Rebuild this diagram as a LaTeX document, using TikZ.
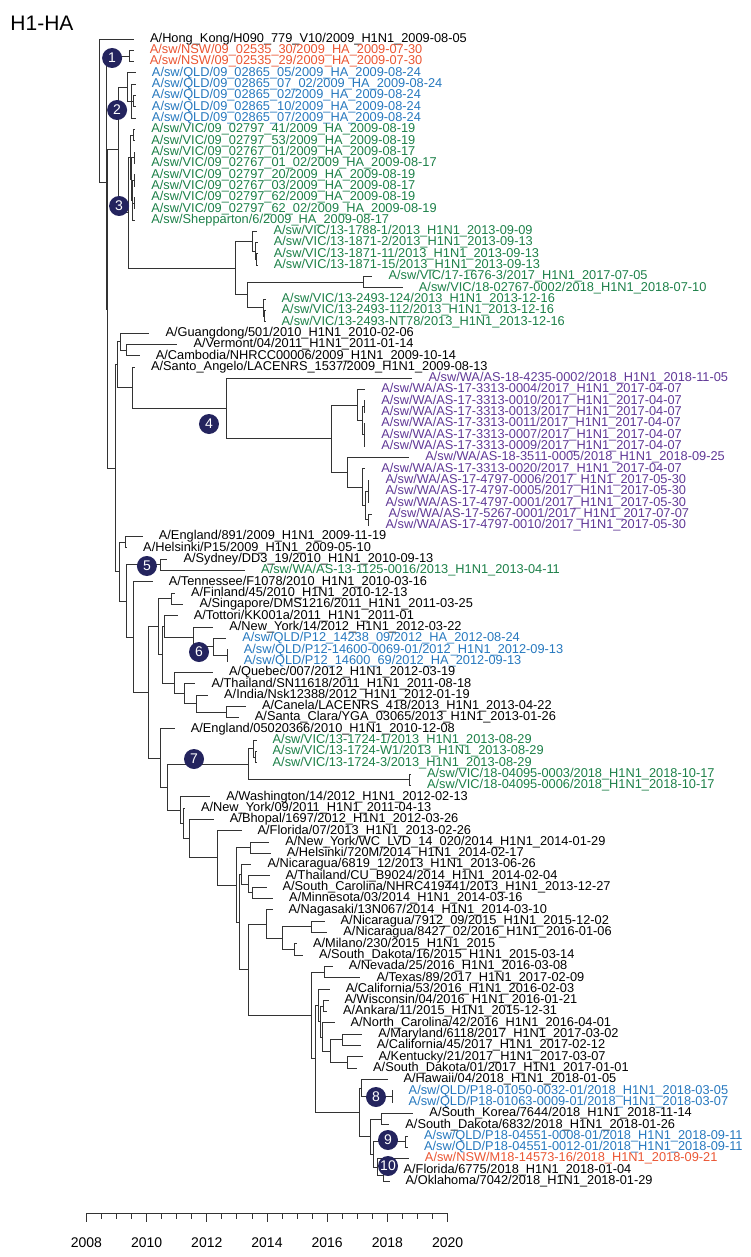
\documentclass[tikz,border=0pt]{standalone}
\usepackage{fontspec}
\setmainfont{Liberation Sans}
\usetikzlibrary{positioning}
\begin{document}
\begin{tikzpicture}[x=30.1pt,y=-1pt,
  br/.style={line width=0.9pt,draw=black!80},
  tip/.style={inner sep=0pt,minimum size=0pt},
  every label/.style={font=\fontsize{12.8}{13}\selectfont,inner sep=0pt,xshift=15.5pt},
  nsw/.style={text=nswred},qld/.style={text=qldblue},
  vic/.style={text=vicgreen},wa/.style={text=wapurple},
  badge/.style={circle,fill=badgenavy,text=white,minimum size=20pt,inner sep=0pt,font=\fontsize{14}{14}\selectfont}]
\definecolor{nswred}{RGB}{234,85,50}
\definecolor{qldblue}{RGB}{38,120,190}
\definecolor{vicgreen}{RGB}{28,128,72}
\definecolor{wapurple}{RGB}{96,56,150}
\definecolor{badgenavy}{RGB}{36,36,94}
\useasboundingbox (-2.8704,0) rectangle (22.0465,1257);
\node[anchor=west,font=\fontsize{21}{21}\selectfont] (title) at (-2.64,23) {H1-HA};
% leaves, x = year - 2008
\node[tip,label={right:A/Hong\_Kong/H090\_779\_V10/2009\_H1N1\_2009-08-05}] (l1) at (1.59,39.0) {};
\node[tip,label={[nsw]right:A/sw/NSW/09\_02535\_30/2009\_HA\_2009-07-30}] (l2) at (1.58,50.3) {};
\node[tip,label={[nsw]right:A/sw/NSW/09\_02535\_29/2009\_HA\_2009-07-30}] (l3) at (1.58,61.6) {};
\node[tip,label={[qld]right:A/sw/QLD/09\_02865\_05/2009\_HA\_2009-08-24}] (l4) at (1.65,72.9) {};
\node[tip,label={[qld]right:A/sw/QLD/09\_02865\_07\_02/2009\_HA\_2009-08-24}] (l5) at (1.65,84.2) {};
\node[tip,label={[qld]right:A/sw/QLD/09\_02865\_02/2009\_HA\_2009-08-24}] (l6) at (1.65,95.6) {};
\node[tip,label={[qld]right:A/sw/QLD/09\_02865\_10/2009\_HA\_2009-08-24}] (l7) at (1.65,106.9) {};
\node[tip,label={[qld]right:A/sw/QLD/09\_02865\_07/2009\_HA\_2009-08-24}] (l8) at (1.65,118.2) {};
\node[tip,label={[vic]right:A/sw/VIC/09\_02797\_41/2009\_HA\_2009-08-19}] (l9) at (1.63,129.5) {};
\node[tip,label={[vic]right:A/sw/VIC/09\_02797\_53/2009\_HA\_2009-08-19}] (l10) at (1.63,140.8) {};
\node[tip,label={[vic]right:A/sw/VIC/09\_02767\_01/2009\_HA\_2009-08-17}] (l11) at (1.63,152.1) {};
\node[tip,label={[vic]right:A/sw/VIC/09\_02767\_01\_02/2009\_HA\_2009-08-17}] (l12) at (1.63,163.4) {};
\node[tip,label={[vic]right:A/sw/VIC/09\_02797\_20/2009\_HA\_2009-08-19}] (l13) at (1.63,174.7) {};
\node[tip,label={[vic]right:A/sw/VIC/09\_02767\_03/2009\_HA\_2009-08-17}] (l14) at (1.63,186.0) {};
\node[tip,label={[vic]right:A/sw/VIC/09\_02797\_62/2009\_HA\_2009-08-19}] (l15) at (1.63,197.3) {};
\node[tip,label={[vic]right:A/sw/VIC/09\_02797\_62\_02/2009\_HA\_2009-08-19}] (l16) at (1.63,208.7) {};
\node[tip,label={[vic]right:A/sw/Shepparton/6/2009\_HA\_2009-08-17}] (l17) at (1.63,220.0) {};
\node[tip,label={[vic]right:A/sw/VIC/13-1788-1/2013\_H1N1\_2013-09-09}] (l18) at (5.69,231.3) {};
\node[tip,label={[vic]right:A/sw/VIC/13-1871-2/2013\_H1N1\_2013-09-13}] (l19) at (5.70,242.6) {};
\node[tip,label={[vic]right:A/sw/VIC/13-1871-11/2013\_H1N1\_2013-09-13}] (l20) at (5.70,253.9) {};
\node[tip,label={[vic]right:A/sw/VIC/13-1871-15/2013\_H1N1\_2013-09-13}] (l21) at (5.70,265.2) {};
\node[tip,label={[vic]right:A/sw/VIC/17-1676-3/2017\_H1N1\_2017-07-05}] (l22) at (9.51,276.5) {};
\node[tip,label={[vic]right:A/sw/VIC/18-02767-0002/2018\_H1N1\_2018-07-10}] (l23) at (10.52,287.8) {};
\node[tip,label={[vic]right:A/sw/VIC/13-2493-124/2013\_H1N1\_2013-12-16}] (l24) at (5.96,299.1) {};
\node[tip,label={[vic]right:A/sw/VIC/13-2493-112/2013\_H1N1\_2013-12-16}] (l25) at (5.96,310.5) {};
\node[tip,label={[vic]right:A/sw/VIC/13-2493-NT78/2013\_H1N1\_2013-12-16}] (l26) at (5.96,321.8) {};
\node[tip,label={right:A/Guangdong/501/2010\_H1N1\_2010-02-06}] (l27) at (2.10,333.1) {};
\node[tip,label={right:A/Vermont/04/2011\_H1N1\_2011-01-14}] (l28) at (3.03,344.4) {};
\node[tip,label={right:A/Cambodia/NHRCC00006/2009\_H1N1\_2009-10-14}] (l29) at (1.78,355.7) {};
\node[tip,label={right:A/Santo\_Angelo/LACENRS\_1537/2009\_H1N1\_2009-08-13}] (l30) at (1.62,367.0) {};
\node[tip,label={[wa]right:A/sw/WA/AS-18-4235-0002/2018\_H1N1\_2018-11-05}] (l31) at (10.84,378.3) {};
\node[tip,label={[wa]right:A/sw/WA/AS-17-3313-0004/2017\_H1N1\_2017-04-07}] (l32) at (9.27,389.6) {};
\node[tip,label={[wa]right:A/sw/WA/AS-17-3313-0010/2017\_H1N1\_2017-04-07}] (l33) at (9.27,400.9) {};
\node[tip,label={[wa]right:A/sw/WA/AS-17-3313-0013/2017\_H1N1\_2017-04-07}] (l34) at (9.27,412.2) {};
\node[tip,label={[wa]right:A/sw/WA/AS-17-3313-0011/2017\_H1N1\_2017-04-07}] (l35) at (9.27,423.5) {};
\node[tip,label={[wa]right:A/sw/WA/AS-17-3313-0007/2017\_H1N1\_2017-04-07}] (l36) at (9.27,434.9) {};
\node[tip,label={[wa]right:A/sw/WA/AS-17-3313-0009/2017\_H1N1\_2017-04-07}] (l37) at (9.27,446.2) {};
\node[tip,label={[wa]right:A/sw/WA/AS-18-3511-0005/2018\_H1N1\_2018-09-25}] (l38) at (10.73,457.5) {};
\node[tip,label={[wa]right:A/sw/WA/AS-17-3313-0020/2017\_H1N1\_2017-04-07}] (l39) at (9.27,468.8) {};
\node[tip,label={[wa]right:A/sw/WA/AS-17-4797-0006/2017\_H1N1\_2017-05-30}] (l40) at (9.41,480.1) {};
\node[tip,label={[wa]right:A/sw/WA/AS-17-4797-0005/2017\_H1N1\_2017-05-30}] (l41) at (9.41,491.4) {};
\node[tip,label={[wa]right:A/sw/WA/AS-17-4797-0001/2017\_H1N1\_2017-05-30}] (l42) at (9.41,502.7) {};
\node[tip,label={[wa]right:A/sw/WA/AS-17-5267-0001/2017\_H1N1\_2017-07-07}] (l43) at (9.51,514.0) {};
\node[tip,label={[wa]right:A/sw/WA/AS-17-4797-0010/2017\_H1N1\_2017-05-30}] (l44) at (9.41,525.3) {};
\node[tip,label={right:A/England/891/2009\_H1N1\_2009-11-19}] (l45) at (1.88,536.6) {};
\node[tip,label={right:A/Helsinki/P15/2009\_H1N1\_2009-05-10}] (l46) at (1.36,547.9) {};
\node[tip,label={right:A/Sydney/DD3\_19/2010\_H1N1\_2010-09-13}] (l47) at (2.70,559.3) {};
\node[tip,label={[vic]right:A/sw/WA/AS-13-1125-0016/2013\_H1N1\_2013-04-11}] (l48) at (5.28,570.6) {};
\node[tip,label={right:A/Tennessee/F1078/2010\_H1N1\_2010-03-16}] (l49) at (2.21,581.9) {};
\node[tip,label={right:A/Finland/45/2010\_H1N1\_2010-12-13}] (l50) at (2.95,593.2) {};
\node[tip,label={right:A/Singapore/DMS1216/2011\_H1N1\_2011-03-25}] (l51) at (3.23,604.5) {};
\node[tip,label={right:A/Tottori/KK001a/2011\_H1N1\_2011-01}] (l52) at (3.04,615.8) {};
\node[tip,label={right:A/New\_York/14/2012\_H1N1\_2012-03-22}] (l53) at (4.22,627.1) {};
\node[tip,label={[qld]right:A/sw/QLD/P12\_14238\_09/2012\_HA\_2012-08-24}] (l54) at (4.65,638.4) {};
\node[tip,label={[qld]right:A/sw/QLD/P12-14600-0069-01/2012\_H1N1\_2012-09-13}] (l55) at (4.70,649.7) {};
\node[tip,label={[qld]right:A/sw/QLD/P12\_14600\_69/2012\_HA\_2012-09-13}] (l56) at (4.70,661.0) {};
\node[tip,label={right:A/Quebec/007/2012\_H1N1\_2012-03-19}] (l57) at (4.21,672.3) {};
\node[tip,label={right:A/Thailand/SN11618/2011\_H1N1\_2011-08-18}] (l58) at (3.63,683.7) {};
\node[tip,label={right:A/India/Nsk12388/2012\_H1N1\_2012-01-19}] (l59) at (4.05,695.0) {};
\node[tip,label={right:A/Canela/LACENRS\_418/2013\_H1N1\_2013-04-22}] (l60) at (5.31,706.3) {};
\node[tip,label={right:A/Santa\_Clara/YGA\_03065/2013\_H1N1\_2013-01-26}] (l61) at (5.07,717.6) {};
\node[tip,label={right:A/England/05020366/2010\_H1N1\_2010-12-08}] (l62) at (2.94,728.9) {};
\node[tip,label={[vic]right:A/sw/VIC/13-1724-1/2013\_H1N1\_2013-08-29}] (l63) at (5.66,740.2) {};
\node[tip,label={[vic]right:A/sw/VIC/13-1724-W1/2013\_H1N1\_2013-08-29}] (l64) at (5.66,751.5) {};
\node[tip,label={[vic]right:A/sw/VIC/13-1724-3/2013\_H1N1\_2013-08-29}] (l65) at (5.66,762.8) {};
\node[tip,label={[vic]right:A/sw/VIC/18-04095-0003/2018\_H1N1\_2018-10-17}] (l66) at (10.79,774.1) {};
\node[tip,label={[vic]right:A/sw/VIC/18-04095-0006/2018\_H1N1\_2018-10-17}] (l67) at (10.79,785.4) {};
\node[tip,label={right:A/Washington/14/2012\_H1N1\_2012-02-13}] (l68) at (4.12,796.7) {};
\node[tip,label={right:A/New\_York/09/2011\_H1N1\_2011-04-13}] (l69) at (3.28,808.1) {};
\node[tip,label={right:A/Bhopal/1697/2012\_H1N1\_2012-03-26}] (l70) at (4.24,819.4) {};
\node[tip,label={right:A/Florida/07/2013\_H1N1\_2013-02-26}] (l71) at (5.16,830.7) {};
\node[tip,label={right:A/New\_York/WC\_LVD\_14\_020/2014\_H1N1\_2014-01-29}] (l72) at (6.08,842.0) {};
\node[tip,label={right:A/Helsinki/720M/2014\_H1N1\_2014-02-17}] (l73) at (6.13,853.3) {};
\node[tip,label={right:A/Nicaragua/6819\_12/2013\_H1N1\_2013-06-26}] (l74) at (5.49,864.6) {};
\node[tip,label={right:A/Thailand/CU\_B9024/2014\_H1N1\_2014-02-04}] (l75) at (6.09,875.9) {};
\node[tip,label={right:A/South\_Carolina/NHRC419441/2013\_H1N1\_2013-12-27}] (l76) at (5.99,887.2) {};
\node[tip,label={right:A/Minnesota/03/2014\_H1N1\_2014-03-16}] (l77) at (6.21,898.5) {};
\node[tip,label={right:A/Nagasaki/13N067/2014\_H1N1\_2014-03-10}] (l78) at (6.19,909.8) {};
\node[tip,label={right:A/Nicaragua/7912\_09/2015\_H1N1\_2015-12-02}] (l79) at (7.92,921.1) {};
\node[tip,label={right:A/Nicaragua/8427\_02/2016\_H1N1\_2016-01-06}] (l80) at (8.01,932.5) {};
\node[tip,label={right:A/Milano/230/2015\_H1N1\_2015}] (l81) at (7.00,943.8) {};
\node[tip,label={right:A/South\_Dakota/16/2015\_H1N1\_2015-03-14}] (l82) at (7.20,955.1) {};
\node[tip,label={right:A/Nevada/25/2016\_H1N1\_2016-03-08}] (l83) at (8.19,966.4) {};
\node[tip,label={right:A/Texas/89/2017\_H1N1\_2017-02-09}] (l84) at (9.11,977.7) {};
\node[tip,label={right:A/California/53/2016\_H1N1\_2016-02-03}] (l85) at (8.09,989.0) {};
\node[tip,label={right:A/Wisconsin/04/2016\_H1N1\_2016-01-21}] (l86) at (8.05,1000.3) {};
\node[tip,label={right:A/Ankara/11/2015\_H1N1\_2015-12-31}] (l87) at (8.00,1011.6) {};
\node[tip,label={right:A/North\_Carolina/42/2016\_H1N1\_2016-04-01}] (l88) at (8.25,1022.9) {};
\node[tip,label={right:A/Maryland/6118/2017\_H1N1\_2017-03-02}] (l89) at (9.17,1034.2) {};
\node[tip,label={right:A/California/45/2017\_H1N1\_2017-02-12}] (l90) at (9.12,1045.6) {};
\node[tip,label={right:A/Kentucky/21/2017\_H1N1\_2017-03-07}] (l91) at (9.18,1056.9) {};
\node[tip,label={right:A/South\_Dakota/01/2017\_H1N1\_2017-01-01}] (l92) at (9.00,1068.2) {};
\node[tip,label={right:A/Hawaii/04/2018\_H1N1\_2018-01-05}] (l93) at (10.01,1079.5) {};
\node[tip,label={[qld]right:A/sw/QLD/P18-01050-0032-01/2018\_H1N1\_2018-03-05}] (l94) at (10.18,1090.8) {};
\node[tip,label={[qld]right:A/sw/QLD/P18-01063-0009-01/2018\_H1N1\_2018-03-07}] (l95) at (10.18,1102.1) {};
\node[tip,label={right:A/South\_Korea/7644/2018\_H1N1\_2018-11-14}] (l96) at (10.87,1113.4) {};
\node[tip,label={right:A/South\_Dakota/6832/2018\_H1N1\_2018-01-26}] (l97) at (10.07,1124.7) {};
\node[tip,label={[qld]right:A/sw/QLD/P18-04551-0008-01/2018\_H1N1\_2018-09-11}] (l98) at (10.69,1136.0) {};
\node[tip,label={[qld]right:A/sw/QLD/P18-04551-0012-01/2018\_H1N1\_2018-09-11}] (l99) at (10.69,1147.3) {};
\node[tip,label={[nsw]right:A/sw/NSW/M18-14573-16/2018\_H1N1\_2018-09-21}] (l100) at (10.72,1158.6) {};
\node[tip,label={right:A/Florida/6775/2018\_H1N1\_2018-01-04}] (l101) at (10.01,1170.0) {};
\node[tip,label={right:A/Oklahoma/7042/2018\_H1N1\_2018-01-29}] (l102) at (10.08,1181.3) {};
% inner nodes
\coordinate (R) at (0.419,110.8);
\coordinate (A) at (0.651,182.6);
\coordinate (N) at (1.415,56.0);
\coordinate (B) at (0.684,309.1);
\coordinate (C) at (1.050,149.9);
\coordinate (Q) at (1.349,87.1);
\coordinate (q2) at (1.482,101.2);
\coordinate (q1) at (1.548,101.3);
\coordinate (V) at (1.382,212.6);
\coordinate (V09) at (1.449,157.1);
\coordinate (v1) at (1.548,135.2);
\coordinate (vw) at (1.482,179.0);
\coordinate (v2) at (1.581,157.8);
\coordinate (vu) at (1.515,200.2);
\coordinate (v3) at (1.581,180.4);
\coordinate (v4) at (1.581,203.0);
\coordinate (W) at (4.937,268.1);
\coordinate (W1) at (5.502,241.2);
\coordinate (W1b) at (5.601,251.1);
\coordinate (W1c) at (5.635,259.6);
\coordinate (W2) at (5.336,294.9);
\coordinate (W2a) at (9.189,282.2);
\coordinate (W2b) at (5.867,307.6);
\coordinate (W2c) at (5.917,316.1);
\coordinate (D) at (0.950,468.2);
\coordinate (E) at (1.017,364.7);
\coordinate (GVC) at (1.116,341.6);
\coordinate (VC) at (1.316,350.1);
\coordinate (G) at (1.515,387.8);
\coordinate (WA) at (4.638,408.6);
\coordinate (WAb) at (8.126,438.8);
\coordinate (WAc) at (8.990,405.2);
\coordinate (WAc2) at (9.156,420.7);
\coordinate (WAc3) at (9.223,406.6);
\coordinate (WAc4) at (9.223,434.9);
\coordinate (WAd) at (8.658,472.3);
\coordinate (WAe) at (9.156,487.2);
\coordinate (WAf) at (9.256,505.5);
\coordinate (WAg) at (9.355,491.4);
\coordinate (WAh) at (9.355,519.7);
\coordinate (F) at (1.083,571.7);
\coordinate (H1) at (1.282,542.3);
\coordinate (K) at (1.316,601.0);
\coordinate (S) at (2.445,564.9);
\coordinate (L) at (1.548,637.2);
\coordinate (M) at (2.046,692.4);
\coordinate (M1) at (2.379,626.8);
\coordinate (Fs) at (2.811,598.9);
\coordinate (TQ) at (2.512,654.7);
\coordinate (T) at (2.578,626.4);
\coordinate (NYQ) at (3.542,637.0);
\coordinate (Q6) at (4.206,646.9);
\coordinate (Q6b) at (4.671,655.4);
\coordinate (Qu) at (2.910,683.0);
\coordinate (Th) at (3.243,693.6);
\coordinate (In) at (3.641,703.5);
\coordinate (CS) at (4.638,712.0);
\coordinate (M2) at (2.445,758.0);
\coordinate (N7) at (2.678,787.2);
\coordinate (c7) at (5.369,764.2);
\coordinate (c7a) at (5.535,748.7);
\coordinate (c7b) at (5.601,757.2);
\coordinate (c7c) at (10.718,779.8);
\coordinate (N8) at (3.110,810.1);
\coordinate (N8b) at (3.209,823.4);
\coordinate (N9) at (3.409,838.7);
\coordinate (N10) at (4.339,857.9);
\coordinate (N11) at (4.970,885.0);
\coordinate (NH) at (5.435,847.7);
\coordinate (N12) at (5.070,922.2);
\coordinate (N12a) at (5.136,874.5);
\coordinate (TSM) at (5.369,884.4);
\coordinate (SM) at (5.502,892.9);
\coordinate (X) at (5.369,969.8);
\coordinate (Ng) at (5.967,924.0);
\coordinate (NM) at (6.498,938.2);
\coordinate (NN) at (7.462,926.8);
\coordinate (MS) at (6.897,949.5);
\coordinate (Y) at (7.462,1015.5);
\coordinate (NT) at (7.894,972.1);
\coordinate (Z) at (7.595,1058.9);
\coordinate (Z2) at (7.694,1005.3);
\coordinate (Z3) at (7.761,1021.5);
\coordinate (WiA) at (7.860,1006.0);
\coordinate (Z4) at (7.827,1037.1);
\coordinate (MK) at (8.093,1051.2);
\coordinate (MC) at (8.492,1039.9);
\coordinate (KS) at (8.658,1062.6);
\coordinate (H8) at (9.056,1112.4);
\coordinate (H8a) at (9.123,1088.0);
\coordinate (P8) at (10.153,1096.5);
\coordinate (H8b) at (9.422,1136.8);
\coordinate (SK2) at (9.787,1119.1);
\coordinate (H8c) at (9.551,1154.4);
\coordinate (P9) at (10.585,1141.7);
\coordinate (P10) at (9.684,1167.2);
\coordinate (FO) at (9.884,1175.7);
% branches
\foreach \p/\c in {R/l1,R/A,A/N,A/B,N/l2,N/l3,B/C,B/D,C/Q,C/V,Q/l4,Q/q2,q2/l5,q2/q1,q2/l8,q1/l6,q1/l7,
  V/V09,V/W,V09/v1,V09/vw,v1/l9,v1/l10,vw/v2,vw/vu,v2/l11,v2/l12,vu/v3,vu/v4,vu/l17,v3/l13,v3/l14,v4/l15,v4/l16,
  W/W1,W/W2,W1/l18,W1/W1b,W1b/l19,W1b/W1c,W1c/l20,W1c/l21,W2/W2a,W2/W2b,W2a/l22,W2a/l23,W2b/l24,W2b/W2c,W2c/l25,W2c/l26,
  D/E,D/F,E/GVC,E/G,GVC/l27,GVC/VC,VC/l28,VC/l29,G/l30,G/WA,WA/l31,WA/WAb,WAb/WAc,WAb/WAd,WAc/l32,WAc/WAc2,
  WAc2/WAc3,WAc2/WAc4,WAc3/l33,WAc3/l34,WAc4/l35,WAc4/l36,WAc4/l37,WAd/l38,WAd/WAe,WAe/l39,WAe/WAf,WAf/WAg,WAf/WAh,
  WAg/l40,WAg/l41,WAg/l42,WAh/l43,WAh/l44,
  F/H1,F/K,H1/l45,H1/l46,K/S,K/L,S/l47,S/l48,L/l49,L/M,M/M1,M/M2,M1/Fs,M1/TQ,Fs/l50,Fs/l51,TQ/T,TQ/Qu,T/l52,T/NYQ,
  NYQ/l53,NYQ/Q6,Q6/l54,Q6/Q6b,Q6b/l55,Q6b/l56,Qu/l57,Qu/Th,Th/l58,Th/In,In/l59,In/CS,CS/l60,CS/l61,
  M2/l62,M2/N7,N7/c7,N7/N8,c7/c7a,c7/c7c,c7a/l63,c7a/c7b,c7b/l64,c7b/l65,c7c/l66,c7c/l67,
  N8/l68,N8/N8b,N8b/l69,N8b/N9,N9/l70,N9/N10,N10/l71,N10/N11,N11/NH,N11/N12,NH/l72,NH/l73,N12/N12a,N12/X,
  N12a/l74,N12a/TSM,TSM/l75,TSM/SM,SM/l76,SM/l77,X/Ng,X/Y,Ng/l78,Ng/NM,NM/NN,NM/MS,NN/l79,NN/l80,MS/l81,MS/l82,
  Y/NT,Y/Z,NT/l83,NT/l84,Z/Z2,Z/H8,Z2/l85,Z2/Z3,Z3/WiA,Z3/Z4,WiA/l86,WiA/l87,Z4/l88,Z4/MK,MK/MC,MK/KS,
  MC/l89,MC/l90,KS/l91,KS/l92,H8/H8a,H8/H8b,H8a/l93,H8a/P8,P8/l94,P8/l95,H8b/SK2,H8b/H8c,SK2/l96,SK2/l97,
  H8c/P9,H8c/P10,P9/l98,P9/l99,P10/l100,P10/FO,FO/l101,FO/l102}
  \draw[br] (\p) |- (\c);
% clade markers
\node[badge] (b1) at (0.854,58) {1};
\node[badge] (b2) at (1.020,110) {2};
\node[badge] (b3) at (1.086,206) {3};
\node[badge] (b4) at (4.073,424) {4};
\node[badge] (b5) at (2.010,566) {5};
\node[badge] (b6) at (3.741,652) {6};
\node[badge] (b7) at (3.575,759) {7};
\node[badge] (b8) at (9.621,1097) {8};
\node[badge] (b9) at (10.020,1140) {9};
\node[badge] (b10) at (10.020,1166) {10};
% time axis
\draw[br] (0,1213) -- (12,1213);
\foreach \t in {0,0.5,...,12} \draw[br] (\t,1213) -- (\t,1219);
\foreach \t/\yr in {0/2008,2/2010,4/2012,6/2014,8/2016,10/2018,12/2020} {
  \draw[br] (\t,1213) -- (\t,1222);
  \node[font=\fontsize{14}{14}\selectfont] (y\yr) at (\t,1243) {\yr};
}
\end{tikzpicture}
\end{document}
